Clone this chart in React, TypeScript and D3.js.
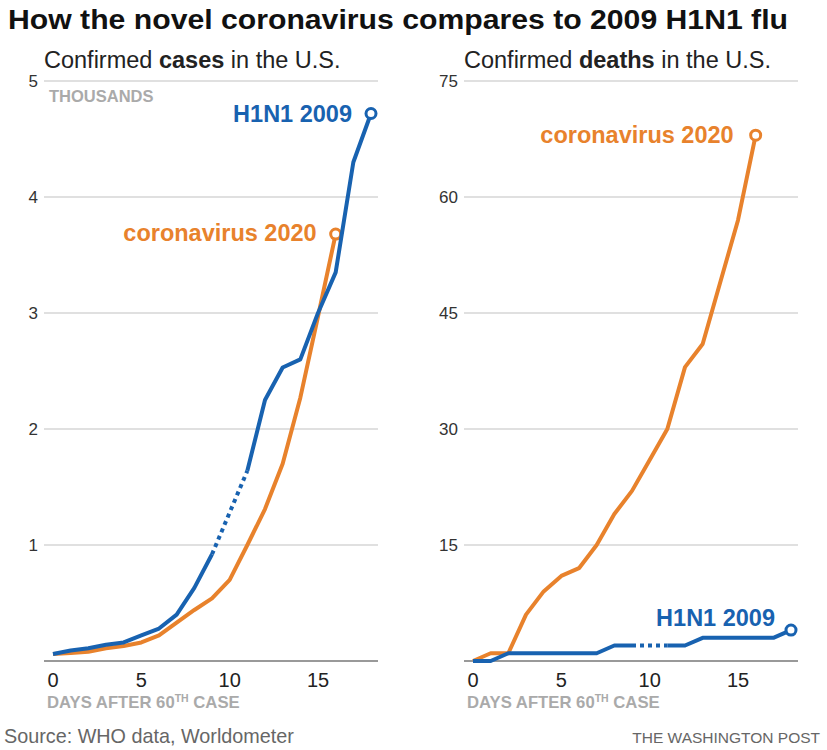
import React from "react";
import * as d3 from "d3";

const days = d3.range(0, 19);

// Cases in thousands
const casesH1N1: (number | null)[] = [0.06, 0.09, 0.11, 0.14, 0.16, 0.22, 0.28, 0.4, 0.63, 0.92, null, 1.64, 2.25, 2.53, 2.6, 3.0, 3.35, 4.3, 4.72];
const casesCorona: (number | null)[] = [0.06, 0.07, 0.08, 0.11, 0.13, 0.16, 0.22, 0.33, 0.44, 0.54, 0.7, 1.0, 1.31, 1.7, 2.27, 2.97, 3.68];

// Deaths
const deathsH1N1: (number | null)[] = [0, 0, 1, 1, 1, 1, 1, 1, 2, 2, null, 2, 2, 3, 3, 3, 3, 3, 4];
const deathsCorona: (number | null)[] = [0, 1, 1, 6, 9, 11, 12, 15, 19, 22, 26, 30, 38, 41, 49, 57, 68];

const xTicks = [0, 5, 10, 15];
const casesTicks = [1, 2, 3, 4, 5];
const deathsTicks = [15, 30, 45, 60, 75];

const BLUE = "#1862b0";
const ORANGE = "#e8822c";
const FONT = "'Liberation Sans', Arial, sans-serif";

type Series = {
  values: (number | null)[];
  color: string;
  label: string;
  ldx: number;
  ldy: number;
};

function Panel({
  x0,
  x1,
  yMax,
  yTicks,
  measure,
  unitLabel,
  series,
}: {
  x0: number;
  x1: number;
  yMax: number;
  yTicks: number[];
  measure: string;
  unitLabel?: string;
  series: Series[];
}) {
  const x = d3.scaleLinear().domain([0, 18]).range([x0, x1]);
  const y = d3.scaleLinear().domain([0, yMax]).range([661, 81]);
  const gridL = x0 - 9;
  const gridR = x1 + 7;

  const line = d3
    .line<[number, number | null]>()
    .defined((d) => d[1] != null)
    .x((d) => x(d[0]))
    .y((d) => y(d[1] as number));

  return (
    <g>
      <text x={gridL} y={68} fontSize={23.5} fill="#222" fontFamily={FONT}>
        Confirmed <tspan fontWeight="bold">{measure}</tspan> in the U.S.
      </text>
      {yTicks.map((t) => (
        <g key={t}>
          <line x1={gridL} x2={gridR} y1={y(t)} y2={y(t)} stroke="#d6d6d6" strokeWidth={1.5} />
          <text x={gridL - 6} y={y(t)} dy="0.35em" textAnchor="end" fontSize={17} fill="#333" fontFamily={FONT}>
            {t}
          </text>
        </g>
      ))}
      {unitLabel && (
        <text x={gridL + 5} y={102} fontSize={16.5} fontWeight="bold" fill="#aaa" fontFamily={FONT}>
          {unitLabel}
        </text>
      )}
      <line x1={gridL} x2={gridR} y1={y(0)} y2={y(0)} stroke="#999" strokeWidth={2} />
      {xTicks.map((t) => (
        <text key={t} x={x(t)} y={687} textAnchor="middle" fontSize={20} fill="#222" fontFamily={FONT}>
          {t}
        </text>
      ))}
      <text x={gridL + 3} y={708} fontSize={16.7} fontWeight="bold" fill="#aaa" fontFamily={FONT}>
        DAYS AFTER 60
        <tspan fontSize={10.5} dy={-6}>TH</tspan>
        <tspan dy={6}> CASE</tspan>
      </text>
      {series.map((s, si) => {
        const pts: [number, number | null][] = s.values.map((v, i) => [days[i], v]);
        const gaps: [number, number][] = [];
        for (let i = 1; i < s.values.length - 1; i++) {
          if (s.values[i] == null && s.values[i - 1] != null) {
            let j = i;
            while (j < s.values.length && s.values[j] == null) j++;
            gaps.push([i - 1, j]);
          }
        }
        const lastIdx = s.values.length - 1;
        const lx = x(days[lastIdx]);
        const ly = y(s.values[lastIdx] as number);
        return (
          <g key={si}>
            <path d={line(pts) || ""} fill="none" stroke={s.color} strokeWidth={4} strokeLinejoin="round" />
            {gaps.map(([a, b], gi) => (
              <line
                key={gi}
                x1={x(days[a])}
                y1={y(s.values[a] as number)}
                x2={x(days[b])}
                y2={y(s.values[b] as number)}
                stroke={s.color}
                strokeWidth={4}
                strokeDasharray="4,4"
              />
            ))}
            <circle cx={lx} cy={ly} r={5} fill="#fff" stroke={s.color} strokeWidth={3} />
            <text
              x={lx + s.ldx}
              y={ly + s.ldy}
              textAnchor="end"
              fontSize={23.5}
              fontWeight="bold"
              fill={s.color}
              fontFamily={FONT}
            >
              {s.label}
            </text>
          </g>
        );
      })}
    </g>
  );
}

export default function App() {
  return (
    <svg width={827} height={750} style={{ position: "absolute", left: 0, top: 0, background: "#fff" }}>
      <rect width={827} height={750} fill="#fff" />
      <text
        x={8}
        y={29}
        fontSize={27}
        fontWeight="bold"
        fill="#111"
        fontFamily={FONT}
        textLength={780}
        lengthAdjust="spacingAndGlyphs"
      >
        How the novel coronavirus compares to 2009 H1N1 flu
      </text>
      <Panel
        x0={53}
        x1={371}
        yMax={5}
        yTicks={casesTicks}
        measure="cases"
        unitLabel="THOUSANDS"
        series={[
          { values: casesCorona, color: ORANGE, label: "coronavirus 2020", ldx: -19, ldy: 7 },
          { values: casesH1N1, color: BLUE, label: "H1N1 2009", ldx: -19, ldy: 9 },
        ]}
      />
      <Panel
        x0={473}
        x1={791}
        yMax={75}
        yTicks={deathsTicks}
        measure="deaths"
        series={[
          { values: deathsCorona, color: ORANGE, label: "coronavirus 2020", ldx: -22, ldy: 8 },
          { values: deathsH1N1, color: BLUE, label: "H1N1 2009", ldx: -16, ldy: -4 },
        ]}
      />
      <text x={4} y={743} fontSize={19.8} fill="#666" fontFamily={FONT}>
        Source: WHO data, Worldometer
      </text>
      <text x={820} y={743} textAnchor="end" fontSize={15.5} fill="#666" fontFamily={FONT}>
        THE WASHINGTON POST
      </text>
    </svg>
  );
}
